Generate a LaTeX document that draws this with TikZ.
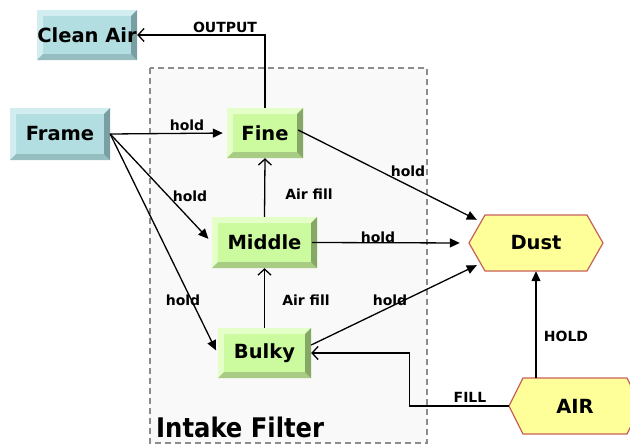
\documentclass[tikz,border=0pt]{standalone}
\usepackage{fontspec}
\setmainfont{DejaVu Sans}
\newfontfamily\grpfont{DejaVu Sans Condensed}
\usetikzlibrary{arrows.meta}
\definecolor{tealmain}{HTML}{B2DEE1}
\definecolor{teallight}{HTML}{D2EDEF}
\definecolor{tealbot}{HTML}{96BDC0}
\definecolor{tealright}{HTML}{7A9FA2}
\definecolor{grnmain}{HTML}{CCFA9E}
\definecolor{grnlight}{HTML}{E4FFC8}
\definecolor{grnbot}{HTML}{A8CC84}
\definecolor{grnright}{HTML}{86A866}
\definecolor{hexfill}{HTML}{FFFF99}
\definecolor{hexline}{HTML}{C8605A}
\definecolor{groupfill}{HTML}{F9F9F9}
\definecolor{groupline}{HTML}{8C8C8C}
\tikzset{
  bev/.style n args={4}{fill=#1, inner sep=0pt, font=\fontsize{19.5}{22}\selectfont\bfseries,
    path picture={
      \coordinate (bb-sw) at (path picture bounding box.south west);
      \coordinate (bb-ne) at (path picture bounding box.north east);
      \coordinate (bb-nw) at (bb-sw|-bb-ne);
      \coordinate (bb-se) at (bb-sw-|bb-ne);
      \fill[#2] (bb-nw) -- (bb-ne) -- ([shift={(-6pt,-6pt)}]bb-ne) -- ([shift={(6pt,-6pt)}]bb-nw)
        -- ([shift={(6pt,6pt)}]bb-sw) -- (bb-sw) -- cycle;
      \fill[#3] (bb-sw) -- (bb-se) -- ([shift={(-6pt,6pt)}]bb-se) -- ([shift={(6pt,6pt)}]bb-sw) -- cycle;
      \fill[#4] (bb-se) -- (bb-ne) -- ([shift={(-6pt,-6pt)}]bb-ne) -- ([shift={(-6pt,6pt)}]bb-se) -- cycle;
    }},
  tealbox/.style={bev={tealmain}{teallight}{tealbot}{tealright}},
  grnbox/.style={bev={grnmain}{grnlight}{grnbot}{grnright}},
  hexbody/.style={fill=hexfill, draw=hexline, line width=1.2pt},
  hextext/.style={font=\fontsize{19.5}{22}\selectfont\bfseries, inner sep=0pt},
  lbl/.style={font=\fontsize{14}{16}\selectfont\bfseries, inner sep=0pt},
  solidarr/.style={line width=1.3pt, -{Triangle[length=10pt,width=9pt]}},
  openarr/.style={line width=1.3pt, -{Straight Barb[length=6pt,width=13pt,line width=1.3pt]}},
}
\begin{document}
\begin{tikzpicture}[x=1pt,y=-1pt]
\useasboundingbox (0,0) rectangle (630,445);
% group
\draw[fill=groupfill, draw=groupline, line width=1.5pt, dash pattern=on 6pt off 4pt] (150,68) rectangle (427,443);
\node[anchor=base west, inner sep=0pt, font=\fontsize{27}{30}\grpfont\bfseries] (grouplbl) at (156,437) {Intake Filter};
% boxes
\node[tealbox, minimum width=100pt, minimum height=50pt] (clean) at (87,35) {Clean Air};
\node[tealbox, minimum width=100pt, minimum height=52pt] (frame) at (60,134) {Frame};
\node[grnbox, minimum width=76pt, minimum height=50pt] (fine) at (265,133) {Fine};
\node[grnbox, minimum width=105pt, minimum height=51pt] (middle) at (264.5,242.5) {Middle};
\node[grnbox, minimum width=93pt, minimum height=50pt] (bulky) at (264.5,353) {Bulky};
% hexagons
\draw[hexbody] (469,243) -- (485,215) -- (587,215) -- (603,243) -- (587,271) -- (485,271) -- cycle;
\node[hextext, minimum width=134pt, minimum height=56pt] (dust) at (536,243) {Dust};
\draw[hexbody] (509,406) -- (523,378) -- (627,378) -- (641,406) -- (627,434) -- (523,434) -- cycle;
\node[hextext, minimum width=132pt, minimum height=56pt] (air) at (575,406) {AIR};
% connectors
\draw[openarr] (fine.north) |- (clean.east) node[lbl] at (225,27) {OUTPUT};
\draw[solidarr, shorten >=4pt] (frame.east) -- (fine.west) node[lbl] at (187,125) {hold};
\draw[solidarr, shorten >=5pt] (frame.east) -- (middle.west) node[lbl] at (190,196) {hold};
\draw[solidarr, shorten >=4pt] (frame.east) -- ([yshift=-1pt]bulky.west) node[lbl] at (183,300) {hold};
\draw[openarr] (middle.north) -- (fine.south) node[lbl] at (309,194) {Air fill};
\draw[openarr] (bulky.north) -- (middle.south) node[lbl] at (306,300) {Air fill};
\draw[solidarr] ([shift={(-5pt,3pt)}]fine.east) -- ([shift={(8pt,-5pt)}]dust.north west) node[lbl] at (408,171) {hold};
\draw[solidarr, shorten >=9pt] ([xshift=-5pt]middle.east) -- (dust.west) node[lbl] at (378,237) {hold};
\draw[solidarr] ([shift={(0pt,8pt)}]bulky.east) -- ([shift={(8pt,6pt)}]dust.south west) node[lbl] at (390,300) {hold};
\draw[openarr] (air.west) -- ++(-99,0) |- (bulky.east) node[lbl] at (470,397) {FILL};
\draw[solidarr] (air.north -| dust.south) -- (dust.south) node[lbl] at (566,336) {HOLD};
\end{tikzpicture}
\end{document}
